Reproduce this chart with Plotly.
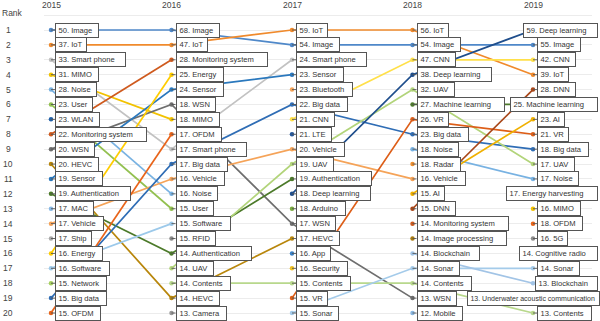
import plotly.graph_objects as go

years = [2015, 2016, 2017, 2018, 2019]

kw_2015 = ["Image", "IoT", "Smart phone", "MIMO", "Noise", "User", "WLAN", "Monitoring system",
           "WSN", "HEVC", "Sensor", "Authentication", "MAC", "Vehicle", "Ship", "Energy",
           "Software", "Network", "Big data", "OFDM"]
n_2015 = [50, 37, 33, 31, 28, 23, 23, 22, 20, 20, 19, 19, 17, 17, 17, 16, 16, 15, 15, 15]

kw_2016 = ["Image", "IoT", "Monitoring system", "Energy", "Sensor", "WSN", "MIMO", "OFDM",
           "Smart phone", "Big data", "Vehicle", "Noise", "User", "Software", "RFID",
           "Authentication", "UAV", "Contents", "HEVC", "Camera"]
n_2016 = [68, 47, 28, 25, 24, 18, 18, 17, 17, 17, 16, 16, 15, 15, 15, 14, 14, 14, 14, 13]

kw_2017 = ["IoT", "Image", "Smart phone", "Sensor", "Bluetooth", "Big data", "CNN", "LTE",
           "Vehicle", "UAV", "Authentication", "Deep learning", "Arduino", "WSN", "HEVC",
           "App", "Security", "Contents", "VR", "Sonar"]
n_2017 = [59, 54, 24, 23, 23, 22, 21, 21, 20, 19, 19, 18, 18, 17, 17, 16, 16, 15, 15, 15]

kw_2018 = ["IoT", "Image", "CNN", "Deep learning", "UAV", "Machine learning", "VR", "Big data",
           "Noise", "Radar", "Vehicle", "AI", "DNN", "Monitoring system", "Image processing",
           "Blockchain", "Sonar", "Contents", "WSN", "Mobile"]
n_2018 = [56, 54, 47, 38, 32, 27, 26, 23, 18, 18, 16, 15, 15, 14, 14, 14, 14, 14, 13, 12]

kw_2019 = ["Deep learning", "Image", "CNN", "IoT", "DNN", "Machine learning", "AI", "VR",
           "Big data", "UAV", "Noise", "Energy harvesting", "MIMO", "OFDM", "5G",
           "Cognitive radio", "Sonar", "Blockchain", "Underwater acoustic communication", "Contents"]
n_2019 = [59, 55, 42, 39, 28, 25, 23, 21, 18, 17, 17, 17, 16, 18, 16, 14, 14, 13, 13, 13]

keywords_by_year = [kw_2015, kw_2016, kw_2017, kw_2018, kw_2019]
counts_by_year = [n_2015, n_2016, n_2017, n_2018, n_2019]

colors = {
    "Image": "#4f88c9", "IoT": "#f08a2c", "Smart phone": "#c2c2c2", "MIMO": "#f2c200",
    "Noise": "#78b2e2", "User": "#92c04f", "WLAN": "#2060a8", "Monitoring system": "#cf5a1e",
    "WSN": "#6e6e6e", "HEVC": "#b8860b", "Sensor": "#2a78bd", "Authentication": "#4c7a2a",
    "MAC": "#86b8e6", "Vehicle": "#f5a358", "Ship": "#a8a8a8", "Energy": "#ffcc00",
    "Software": "#9cc9ea", "Network": "#a6d05f", "Big data": "#2f6db5", "OFDM": "#e8641a",
    "RFID": "#8a8a8a", "UAV": "#b2d47a", "Contents": "#b8d88c", "Camera": "#9a9a9a",
    "Bluetooth": "#f5a358", "CNN": "#ffe04a", "LTE": "#24579a", "Deep learning": "#1f4e8c",
    "Arduino": "#7aaa40", "App": "#3a80c4", "Security": "#f0c020", "VR": "#dd5e18",
    "Sonar": "#a4cbea", "Machine learning": "#4d7a2c", "Radar": "#f09030", "AI": "#f0b000",
    "DNN": "#a84618", "Image processing": "#a87a10", "Blockchain": "#a2c4e6",
    "Mobile": "#8ab8e2", "Energy harvesting": "#f0c000", "5G": "#8c8c8c",
    "Cognitive radio": "#7a7a7a", "Underwater acoustic communication": "#6aa0d0",
}

# pixel layout
W, H = 600, 321
ML, MR = 44, 8
plot_w = W - ML - MR
px_per_year = 120.5
x_first_px = 51
x0 = years[0] - (x_first_px - ML) / px_per_year
x1 = x0 + plot_w / px_per_year
px_per_rank = 283 / 19
y_top = 1 - 30 / px_per_rank
y_bot = y_top + H / px_per_rank

fig = go.Figure()

all_kw = []
for kws in keywords_by_year:
    for k in kws:
        if k not in all_kw:
            all_kw.append(k)

# connecting lines
for k in all_kw:
    xs, ys = [], []
    prev = None
    for yi, kws in enumerate(keywords_by_year):
        if k in kws:
            if prev is not None and prev != yi - 1:
                xs.append(None); ys.append(None)
            xs.append(years[yi]); ys.append(kws.index(k) + 1)
            prev = yi
    if len(xs) > 1:
        fig.add_trace(go.Scatter(x=xs, y=ys, mode="lines",
                                 line=dict(color=colors.get(k, "#888"), width=1.7),
                                 hoverinfo="skip", showlegend=False))

# markers
for yi, kws in enumerate(keywords_by_year):
    fig.add_trace(go.Scatter(x=[years[yi]] * len(kws), y=list(range(1, len(kws) + 1)),
                             mode="markers",
                             marker=dict(size=4.5, color=[colors.get(k, "#888") for k in kws]),
                             hoverinfo="skip", showlegend=False))

cw = {' ': .278, '.': .278, 'I': .278, 'i': .222, 'l': .222, 'j': .222, 't': .278, 'f': .278,
      'r': .333, 'm': .833, 'w': .722, 'M': .833, 'W': .944, 'c': .5, 'k': .5, 's': .5,
      'v': .5, 'x': .5, 'y': .5, 'z': .5, 'A': .667, 'B': .667, 'C': .722, 'D': .722,
      'E': .667, 'F': .611, 'G': .778, 'H': .722, 'J': .5, 'K': .667, 'L': .556, 'N': .722,
      'O': .778, 'P': .667, 'Q': .778, 'R': .722, 'S': .667, 'T': .611, 'U': .722, 'V': .667,
      'X': .667, 'Y': .667, 'Z': .611}

def em(s):
    return sum(cw.get(c, .556) for c in s)

RIGHT_LIMIT = 597
MAX_SHIFT = 66
BP, BW = 1, 1
FS = 7.6
for yi, (kws, ns) in enumerate(zip(keywords_by_year, counts_by_year)):
    pt_px = x_first_px + yi * px_per_year
    for r, (k, n) in enumerate(zip(kws, ns), start=1):
        txt = f"{n}. {k}"
        e = em(txt)
        boxw = 3 + 9.0 * e
        fs = FS
        if pt_px + 4 + boxw > RIGHT_LIMIT:
            left = max(RIGHT_LIMIT - boxw, pt_px - MAX_SHIFT)
            if left + boxw > W - 1:
                boxw = W - 1 - left
                fs = min(FS, (boxw - 6) / (e + 0.2))
            shifted = True
        else:
            shifted = False
        common = dict(x=years[yi], y=r, xref="x", yref="y", text="\u2009" + txt,
                      font=dict(family="Liberation Sans, Arial", size=fs, color="#333"),
                      bgcolor="white", bordercolor="#555", borderwidth=BW, borderpad=BP,
                      width=boxw - 2 * BP - BW, height=10.5, align="left",
                      yanchor="middle")
        if shifted:
            fig.add_annotation(**common, showarrow=False, xanchor="left",
                               xshift=left - pt_px)
        else:
            fig.add_annotation(**common, showarrow=True, arrowhead=0, arrowwidth=0.9,
                               arrowcolor="#555", ax=4, ay=0, axref="pixel", ayref="pixel",
                               xanchor="left")

axis_font = dict(family="Liberation Sans, Arial", size=8.5, color="#444")
for y in years:
    fig.add_annotation(x=y, y=1, xref="x", yref="paper", text=str(y), showarrow=False,
                       xanchor="center", yanchor="top", yshift=2, font=axis_font)
for r in range(1, 21):
    fig.add_annotation(x=(8 - ML) / plot_w, y=r, xref="paper", yref="y", text=str(r),
                       showarrow=False, xanchor="center", yanchor="middle", font=axis_font)
fig.add_annotation(x=-ML / plot_w, y=1 - 13.5 / H, xref="paper", yref="paper", text="Rank",
                   showarrow=False, xanchor="left", yanchor="middle", font=axis_font)

fig.update_layout(
    width=W, height=H, margin=dict(l=ML, r=MR, t=0, b=0),
    paper_bgcolor="white", plot_bgcolor="white",
    xaxis=dict(range=[x0, x1], showgrid=False, zeroline=False, showticklabels=False,
               showline=False, ticks=""),
    yaxis=dict(range=[y_bot, y_top], showgrid=True, gridcolor="#ececec", gridwidth=0.8,
               dtick=1, tick0=1, zeroline=False, showticklabels=False, showline=False, ticks=""),
)

fig.write_html("out.html")
